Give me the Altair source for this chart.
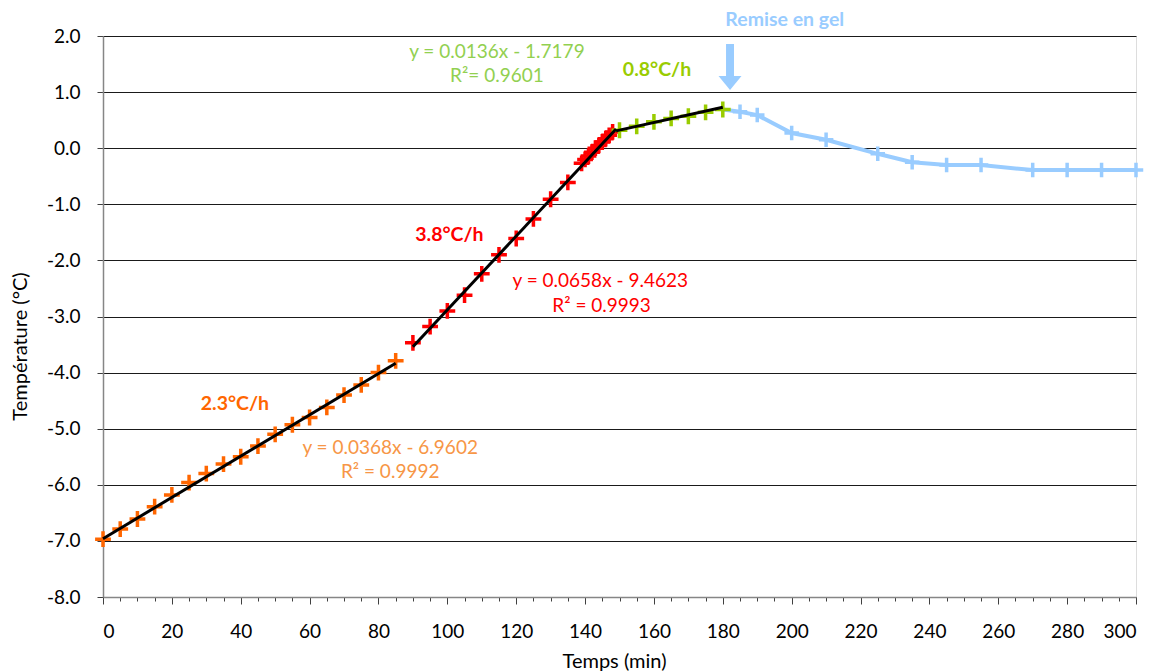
import altair as alt
import pandas as pd

# ---------------- data ----------------
orange_t = [0, 5, 10, 15, 20, 25, 30, 35, 40, 45, 50, 55, 60, 65, 70, 75, 80, 85]
orange_v = [-6.97, -6.79, -6.61, -6.39, -6.18, -5.96, -5.80, -5.63, -5.50, -5.31,
            -5.10, -4.93, -4.80, -4.62, -4.40, -4.22, -4.00, -3.79]

red_t = [90, 95, 100, 105, 110, 115, 120, 125, 130, 135,
         139, 140, 141, 142, 143, 144, 145, 146, 147, 148]
red_v = [-3.47, -3.18, -2.90, -2.62, -2.24, -1.90, -1.61, -1.26, -0.91, -0.61,
         -0.27, -0.20, -0.14, -0.07, 0.00, 0.05, 0.11, 0.17, 0.23, 0.29]

green_t = [150, 155, 160, 165, 170, 175, 180]
green_v = [0.32, 0.39, 0.47, 0.53, 0.57, 0.64, 0.69]

blue_t = [180, 185, 190, 200, 210, 225, 235, 245, 255, 270, 280, 290, 300]
blue_v = [0.69, 0.65, 0.59, 0.27, 0.15, -0.10, -0.25, -0.30, -0.30, -0.39, -0.39, -0.39, -0.39]

# linear fits (slope, intercept, start, end)
fit_names = ["orange", "red", "green"]
fit_slope = [0.0368, 0.0658, 0.0136]
fit_icpt = [-6.9602, -9.4623, -1.7179]
fit_start = [0, 90, 149]
fit_end = [85, 149, 180]

ORANGE = "#FF6600"
ORANGE_L = "#F79646"
RED = "#FF0000"
GREEN = "#99CC00"
GREEN_L = "#92D050"
BLUE = "#99CCFF"

series_names = ["orange", "red", "green", "blue"]
series_colors = [ORANGE, RED, GREEN, BLUE]

# annotation texts
ann_text = ["y = 0.0136x - 1.7179", "R²= 0.9601",
            "y = 0.0658x - 9.4623", "R² = 0.9993",
            "y = 0.0368x - 6.9602", "R² = 0.9992"]
ann_x = [114.4, 114.4, 144.4, 144.8, 83.4, 83.4]
ann_y = [1.72, 1.28, -2.37, -2.81, -5.34, -5.77]
ann_color = [GREEN_L, GREEN_L, RED, RED, ORANGE_L, ORANGE_L]

rate_text = ["0.8°C/h", "3.8°C/h", "2.3°C/h", "Remise en gel"]
rate_x = [160.9, 100.6, 38.3, 198.0]
rate_y = [1.39, -1.55, -4.56, 2.28]
rate_color = [GREEN, RED, ORANGE, BLUE]

arrow_x = [182.1]
arrow_top = [1.857]
arrow_bottom = [1.25]
arrow_head_y = [1.162]

# ---------------- tables ----------------
pts = pd.concat([
    pd.DataFrame({"t": orange_t, "v": orange_v, "s": "orange"}),
    pd.DataFrame({"t": red_t, "v": red_v, "s": "red"}),
    pd.DataFrame({"t": green_t, "v": green_v, "s": "green"}),
])
blue = pd.DataFrame({"t": blue_t, "v": blue_v, "s": "blue"})

fit_rows = []
for n, a, b, s, e in zip(fit_names, fit_slope, fit_icpt, fit_start, fit_end):
    fit_rows.append({"t": s, "v": a * s + b, "s": n})
    fit_rows.append({"t": e, "v": a * e + b, "s": n})
fits = pd.DataFrame(fit_rows)

ann = pd.DataFrame({"t": ann_x, "v": ann_y, "txt": ann_text, "c": ann_color})
rates = pd.DataFrame({"t": rate_x, "v": rate_y, "txt": rate_text, "c": rate_color})
arrow = pd.DataFrame({"t": arrow_x, "v": arrow_top, "v2": arrow_bottom, "h": arrow_head_y})

FONT = "Lato"
AXIS_GREY = "#868686"

x_axis = alt.Axis(
    values=list(range(0, 301, 5)),
    labelExpr="datum.value % 20 == 0 ? datum.label : ''",
    labelOverlap=False,
    tickSize={"condition": {"test": "datum.value % 20 === 0", "value": 7}, "value": 4},
    tickColor="#404040",
    domainColor=AXIS_GREY,
    domainWidth=1.5,
    grid=False,
    labelFont=FONT, labelFontSize=19, labelColor="#000000", labelPadding=18,
    title="Temps (min)", titleFont=FONT, titleFontSize=20, titleFontWeight="normal",
    titleColor="#000000", titleX=511, titleY=64, titleBaseline="middle", titleAlign="center",
)
y_axis = alt.Axis(
    values=list(range(-8, 3)),
    format=".1f",
    labelExpr="replace(datum.label, '\u2212', '-')",
    tickSize=6,
    tickColor="#404040",
    domainColor=AXIS_GREY,
    domainWidth=1.5,
    grid=True, gridColor="#1a1a1a", gridWidth=1,
    labelFont=FONT, labelFontSize=19, labelColor="#000000", labelPadding=17,
    title="Température (°C)", titleFont=FONT, titleFontSize=20, titleFontWeight="normal",
    titleColor="#000000", titleX=-83, titleY=310, titleAngle=-90,
    titleBaseline="middle", titleAlign="center",
)

xs = alt.Scale(domain=[0, 300], nice=False, zero=False)
ys = alt.Scale(domain=[-8, 2], nice=False, zero=False)
X = alt.X("t:Q", scale=xs, axis=x_axis)
Y = alt.Y("v:Q", scale=ys, axis=y_axis)
COL = alt.Color("s:N", scale=alt.Scale(domain=series_names, range=series_colors), legend=None)

CROSS = "M-1,0L1,0M0,-1L0,1"

blue_line = alt.Chart(blue).mark_line(strokeWidth=4, color=BLUE).encode(x=X, y=Y)
blue_pts = alt.Chart(blue[blue.t > 180]).mark_point(
    shape=CROSS, filled=False, size=210, strokeWidth=3.5, opacity=1, color=BLUE
).encode(x=X, y=Y)
main_pts = alt.Chart(pts).mark_point(
    shape=CROSS, filled=False, size=250, strokeWidth=3.5, opacity=1
).encode(x=X, y=Y, color=COL)
fit_lines = alt.Chart(fits).mark_line(strokeWidth=3, color="#000000").encode(
    x=X, y=Y, detail="s:N")

ann_layer = alt.Chart(ann).mark_text(font=FONT, fontSize=19, align="center", baseline="middle").encode(
    x=X, y=Y, text="txt:N", color=alt.Color("c:N", scale=None))
rate_layer = alt.Chart(rates).mark_text(font=FONT, fontSize=19.5, fontWeight="bold",
                                        align="center", baseline="middle").encode(
    x=X, y=Y, text="txt:N", color=alt.Color("c:N", scale=None))

arrow_shaft = alt.Chart(arrow).mark_rule(strokeWidth=8, color=BLUE, strokeCap="butt").encode(
    x=X, y=Y, y2="v2:Q")
arrow_head = alt.Chart(arrow).mark_point(
    shape="M-1,-0.6L1,-0.6L0,0.6Z", filled=True, size=529, color=BLUE, opacity=1
).encode(x=X, y=alt.Y("h:Q", scale=ys, axis=y_axis))

chart = alt.layer(
    blue_line, blue_pts, main_pts, fit_lines, ann_layer, rate_layer, arrow_shaft, arrow_head
).properties(
    width=1033, height=561,
    autosize=alt.AutoSizeParams(type="none"),
    padding={"left": 95, "top": 28, "right": 12, "bottom": 74},
).configure_view(stroke=None).configure(background="white")

chart.save("out.html", embed_options={"renderer": "svg", "actions": False})
